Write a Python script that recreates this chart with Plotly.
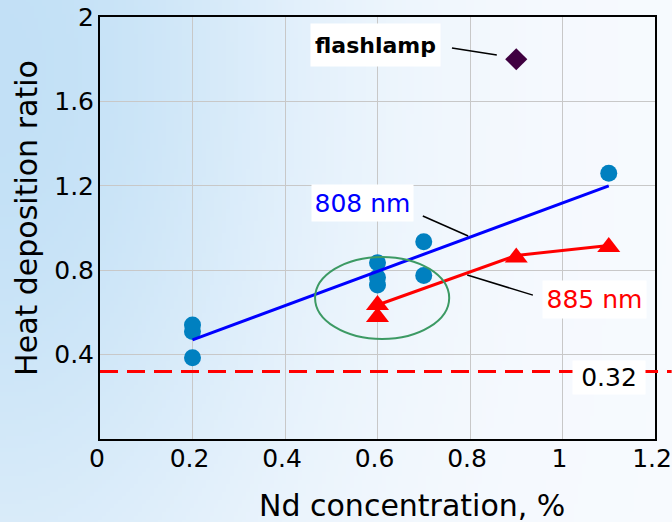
import math, zlib, struct, base64
import plotly.graph_objects as go

# ---------------- data ----------------
c808_x = [0.2, 0.2, 0.2, 0.6, 0.6, 0.6, 0.7, 0.7, 1.1]
c808_y = [0.54, 0.51, 0.385, 0.835, 0.765, 0.73, 0.935, 0.775, 1.26]
fit808_x = [0.2, 1.1]
fit808_y = [0.47, 1.2]
t885_x = [0.6, 0.6, 0.9, 1.1]
t885_y = [0.635, 0.578, 0.86, 0.91]
fit885_x = [0.6, 0.9, 1.1]
fit885_y = [0.635, 0.87, 0.917]
flash_x = [0.9]
flash_y = [1.80]
threshold = 0.32
x_ticks = [0, 0.2, 0.4, 0.6, 0.8, 1, 1.2]
x_ticklabels = ["0", "0.2", "0.4", "0.6", "0.8", "1", "1.2"]
y_ticks = [0.4, 0.8, 1.2, 1.6, 2]
y_ticklabels = ["0.4", "0.8", "1.2", "1.6", "2"]

FONT = "DejaVu Sans"

# ---------------- background gradient png ----------------
W, H = 168, 131
base = (247, 250, 254)
blue = (194, 224, 246)
rows = []
for j in range(H):
    Y = (j + 0.5) * 522 / H
    row = bytearray()
    for i in range(W):
        X = (i + 0.5) * 672 / W
        b = math.exp(-((X / 310.0) ** 2 + ((Y - 70) / 600.0) ** 2))
        row += bytes(int(round(base[k] + (blue[k] - base[k]) * b)) for k in range(3))
    rows.append(b"\x00" + bytes(row))
raw = b"".join(rows)

def chunk(tag, data):
    c = struct.pack(">I", len(data)) + tag + data
    return c + struct.pack(">I", zlib.crc32(tag + data) & 0xffffffff)

png = b"\x89PNG\r\n\x1a\n" + chunk(b"IHDR", struct.pack(">IIBBBBB", W, H, 8, 2, 0, 0, 0)) \
      + chunk(b"IDAT", zlib.compress(raw, 9)) + chunk(b"IEND", b"")
bg_src = "data:image/png;base64," + base64.b64encode(png).decode()

# ---------------- figure ----------------
fig = go.Figure()

fig.add_trace(go.Scatter(x=c808_x, y=c808_y, mode="markers",
                         marker=dict(symbol="circle", size=17, color="rgb(0,128,192)"),
                         showlegend=False, cliponaxis=False))
fig.add_trace(go.Scatter(x=t885_x, y=t885_y, mode="markers",
                         marker=dict(symbol="triangle-up", size=20, color="#FF0000"),
                         showlegend=False, cliponaxis=False))
fig.add_trace(go.Scatter(x=fit808_x, y=fit808_y, mode="lines",
                         line=dict(color="#0000FF", width=3), showlegend=False))
fig.add_trace(go.Scatter(x=fit885_x, y=fit885_y, mode="lines",
                         line=dict(color="#FF0000", width=3), showlegend=False))
fig.add_trace(go.Scatter(x=flash_x, y=flash_y, mode="markers",
                         marker=dict(symbol="diamond", size=17, color="#3F0040"),
                         showlegend=False))

shapes = [
    dict(type="line", xref="paper", yref="y", x0=0, x1=1.03, y0=threshold, y1=threshold,
         line=dict(color="#FF0000", width=3, dash="18px,9px"), layer="above"),
    dict(type="circle", xref="x", yref="y", x0=0.465, x1=0.755, y0=0.474, y1=0.863,
         line=dict(color="#3C9A64", width=2)),
    dict(type="line", xref="x", yref="y", x0=0.761, y0=1.853, x1=0.858, y1=1.820,
         line=dict(color="black", width=1.5)),
    dict(type="line", xref="x", yref="y", x0=0.698, y0=1.057, x1=0.796, y1=0.962,
         line=dict(color="black", width=1.5)),
    dict(type="line", xref="x", yref="y", x0=0.794, y0=0.777, x1=0.936, y1=0.682,
         line=dict(color="black", width=1.5)),
]

C = dict(xanchor="center", yanchor="middle", showarrow=False)
annotations = [
    dict(x=0.595, y=1.867, xref="x", yref="y", text="<b>flashlamp</b>",
         font=dict(family=FONT, size=22, color="black"), bgcolor="white",
         width=127, height=40, **C),
    dict(x=0.5676, y=1.118, xref="x", yref="y", text="808 nm",
         font=dict(family=FONT, size=25, color="#0000FF"), bgcolor="white",
         width=99, height=34, **C),
    dict(x=1.069, y=0.659, xref="x", yref="y", text="885 nm",
         font=dict(family=FONT, size=25, color="#FF0000"), bgcolor="white",
         width=101, height=35, **C),
    dict(x=1.1005, y=0.2915, xref="x", yref="y", text="0.32",
         font=dict(family=FONT, size=25, color="black"), bgcolor="white",
         width=70, height=31, **C),
    dict(x=0.563, y=-0.158, xref="paper", yref="paper", text="Nd concentration, %",
         font=dict(family=FONT, size=30, color="black"), **C),
    dict(x=-0.1315, y=0.524, xref="paper", yref="paper", text="Heat deposition ratio",
         textangle=-90, font=dict(family=FONT, size=30, color="black"), **C),
]

fig.update_layout(
    width=672, height=522,
    margin=dict(l=100, r=17, t=17, b=83, pad=0, autoexpand=False),
    paper_bgcolor="white",
    plot_bgcolor="rgba(0,0,0,0)",
    shapes=shapes,
    annotations=annotations,
    images=[dict(source=bg_src, xref="paper", yref="paper", x=-100 / 555, y=439 / 422,
                 sizex=672 / 555, sizey=522 / 422, sizing="stretch",
                 xanchor="left", yanchor="top", layer="below")],
    showlegend=False,
    font=dict(family=FONT, color="black"),
)
fig.update_xaxes(range=[0, 1.2], tickvals=x_ticks, ticktext=x_ticklabels,
                 tickfont=dict(family=FONT, size=25, color="black"),
                 showgrid=True, gridcolor="#C8C8C8", gridwidth=1,
                 showline=True, linecolor="black", linewidth=2, mirror=True,
                 zeroline=False, ticks="", ticklabelstandoff=-4, automargin=False,
                 ticklabeloverflow="allow", ticklabelshift=-3)
fig.update_yaxes(range=[0, 2], tickvals=y_ticks, ticktext=y_ticklabels,
                 tickfont=dict(family=FONT, size=25, color="black"),
                 showgrid=True, gridcolor="#C8C8C8", gridwidth=1,
                 showline=True, linecolor="black", linewidth=2, mirror=True,
                 zeroline=False, ticks="", ticklabelstandoff=-1, automargin=False,
                 ticklabeloverflow="allow")

fig.write_html("out.html", config={"displayModeBar": False},
               post_script="document.body.style.margin='0';")
